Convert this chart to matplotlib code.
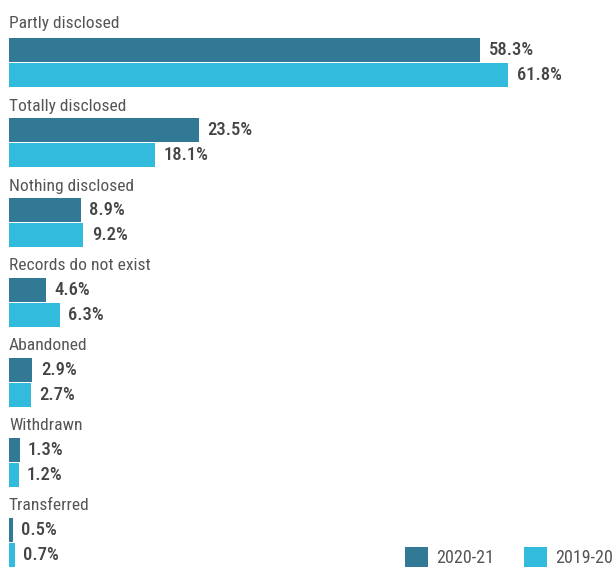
import matplotlib
matplotlib.use("Agg")
import matplotlib.pyplot as plt
from matplotlib.patches import Rectangle

plt.rcParams["font.family"] = ["Liberation Sans Narrow", "DejaVu Sans Condensed",
                               "Roboto Condensed", "Roboto", "DejaVu Sans"]

categories = [
    "Partly disclosed",
    "Totally disclosed",
    "Nothing disclosed",
    "Records do not exist",
    "Abandoned",
    "Withdrawn",
    "Transferred",
]
series_names = ["2020-21", "2019-20"]
values_2020_21 = [58.3, 23.5, 8.9, 4.6, 2.9, 1.3, 0.5]
values_2019_20 = [61.8, 18.1, 9.2, 6.3, 2.7, 1.2, 0.7]
series_values = [values_2020_21, values_2019_20]
colors = ["#327996", "#32bbdc"]
label_color = "#555555"
value_color = "#444444"

W, H = 615, 567
fig = plt.figure(figsize=(W / 100, H / 100), dpi=100)

# main plotting area: x in percent, y in pixel rows (top down)
left_px = 9
ax = fig.add_axes([left_px / W, 0, (W - left_px) / W, 1])
ax.set_xlim(0, 75)
ax.set_ylim(H, 0)
ax.axis("off")

group_top0 = 38
group_pitch = 80
bar_h = 24
bar_pitch = 25

for i, cat in enumerate(categories):
    top = group_top0 + i * group_pitch
    ax.text(0, top - (10 if i == 0 else 7.5), cat, ha="left", va="baseline",
            fontsize=12.6, color=label_color)
    for s, vals in enumerate(series_values):
        y = top + s * bar_pitch
        ax.barh(y, vals[i], height=bar_h, align="edge",
                color=colors[s], linewidth=0)
        ax.annotate(f"{vals[i]:.1f}%", xy=(vals[i], y + bar_h / 2),
                    xytext=(6, 0), textcoords="offset points",
                    ha="left", va="center", fontsize=13.4,
                    fontweight="medium", color=value_color)

# legend in the bottom-right corner
lax = fig.add_axes([0, 0, 1, 1])
lax.set_xlim(0, W)
lax.set_ylim(H, 0)
lax.axis("off")
legend_x = [405, 524]
for s, name in enumerate(series_names):
    x0 = legend_x[s]
    lax.add_patch(Rectangle((x0, 547), 23, 22, color=colors[s], linewidth=0))
    lax.text(x0 + 31, 558, name, ha="left", va="center",
             fontsize=13, color=label_color)

fig.savefig("out.png", dpi=100)
